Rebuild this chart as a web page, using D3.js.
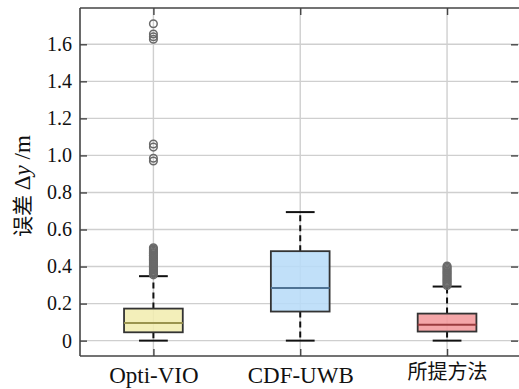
<!DOCTYPE html>
<html>
<head>
<meta charset="utf-8">
<script src="https://cdn.jsdelivr.net/npm/d3@7"></script>
<style>
  html, body { margin: 0; padding: 0; background: #fff; }
  svg { display: block; }
</style>
</head>
<body>
<svg id="chart" width="519" height="389"></svg>
<script>
// Methods compared
const categories = ["Opti-VIO", "CDF-UWB", "所提方法"];

// Box statistics per method: [lower whisker, Q1, median, Q3, upper whisker]
const lowerWhisker = [0.000, 0.000, 0.000];
const q1Values     = [0.045, 0.157, 0.049];
const medianValues = [0.095, 0.284, 0.086];
const q3Values     = [0.173, 0.483, 0.146];
const upperWhisker = [0.348, 0.694, 0.292];

// Outliers per method
const outliersOptiVIO = [
  0.355, 0.362, 0.368, 0.374, 0.381, 0.387, 0.393, 0.400, 0.406, 0.412,
  0.419, 0.425, 0.431, 0.438, 0.444, 0.450, 0.457, 0.463, 0.470, 0.476,
  0.482, 0.489, 0.495, 0.501,
  0.970, 0.985, 1.045, 1.062,
  1.627, 1.641, 1.656, 1.711
];
const outliersCDFUWB = [];
const outliersProposed = [
  0.298, 0.305, 0.312, 0.319, 0.326, 0.333, 0.340, 0.347, 0.354, 0.361,
  0.368, 0.375, 0.382, 0.389, 0.396, 0.403
];
const outlierSets = [outliersOptiVIO, outliersCDFUWB, outliersProposed];

// Y axis ticks and labels
const yTicks = [0, 0.2, 0.4, 0.6, 0.8, 1.0, 1.2, 1.4, 1.6];
const yTickLabels = ["0", "0.2", "0.4", "0.6", "0.8", "1.0", "1.2", "1.4", "1.6"];

// Colours
const boxFills = ["#f1edb0", "#b8dcf8", "#f39a9c"];
const medianColors = ["#9a944f", "#4f7394", "#9a3c3f"];

const SERIF = '"Liberation Serif"';
const CJK = '"Noto Sans CJK SC"';

const svg = d3.select("#chart");
const plotLeft = 80, plotRight = 519, plotTop = 8, plotBottom = 356;

const x = d3.scaleLinear().domain([0.5, 3.49]).range([plotLeft, plotRight]);
const y = d3.scaleLinear().domain([-0.083, 1.796]).range([plotBottom, plotTop]);

const boxHalf = 0.2;   // half box width in category units
const capHalf = 0.098; // half whisker-cap width

// Grid lines
const grid = svg.append("g").attr("stroke", "#cfcfcf").attr("stroke-width", 1.4);
grid.selectAll("line.h").data(yTicks).join("line").attr("class", "h")
  .attr("x1", plotLeft).attr("x2", plotRight)
  .attr("y1", d => y(d)).attr("y2", d => y(d));
grid.selectAll("line.v").data(categories).join("line").attr("class", "v")
  .attr("x1", (d, i) => x(i + 1)).attr("x2", (d, i) => x(i + 1))
  .attr("y1", plotTop).attr("y2", plotBottom);

// Left axis
const yAxis = d3.axisLeft(y).tickValues(yTicks)
  .tickFormat((d, i) => yTickLabels[i]).tickSizeInner(-7).tickSizeOuter(0).tickPadding(8);
const gy = svg.append("g").attr("transform", `translate(${plotLeft},0)`).call(yAxis)
  .attr("font-family", SERIF);
gy.select(".domain").attr("stroke", "#444").attr("stroke-width", 1.6)
  .attr("d", `M0,${plotTop}V${plotBottom}`);
gy.selectAll(".tick line").attr("stroke", "#444").attr("stroke-width", 1.4);
gy.selectAll(".tick text")
  .style("font-family", SERIF).style("font-size", "20px").attr("fill", "#111");

// Right ticks
const yAxisR = d3.axisRight(y).tickValues(yTicks).tickFormat("").tickSizeInner(-7).tickSizeOuter(0);
const gyr = svg.append("g").attr("transform", `translate(${plotRight - 1},0)`).call(yAxisR);
gyr.select(".domain").remove();
gyr.selectAll(".tick line").attr("stroke", "#444").attr("stroke-width", 1.4);

// Bottom axis
const xAxis = d3.axisBottom(x).tickValues([1, 2, 3])
  .tickFormat((d) => categories[d - 1]).tickSizeInner(-7).tickSizeOuter(0).tickPadding(11);
const gx = svg.append("g").attr("transform", `translate(0,${plotBottom})`).call(xAxis)
  .attr("font-family", SERIF);
gx.select(".domain").attr("stroke", "#444").attr("stroke-width", 1.6)
  .attr("d", `M${plotLeft},0H${plotRight}`);
gx.selectAll(".tick line").attr("stroke", "#444").attr("stroke-width", 1.4);
gx.selectAll(".tick text")
  .style("font-family", d => d === 3 ? CJK : SERIF)
  .style("font-size", d => d === 3 ? "20px" : "23px").attr("fill", "#111")
  .attr("dy", d => d === 3 ? "0.6em" : "0.71em");

// Top border with ticks
const xAxisT = d3.axisTop(x).tickValues([1, 2, 3]).tickFormat("").tickSizeInner(-7).tickSizeOuter(0);
const gxt = svg.append("g").attr("transform", `translate(0,${plotTop})`).call(xAxisT);
gxt.select(".domain").attr("stroke", "#444").attr("stroke-width", 1.6)
  .attr("d", `M${plotLeft},0H${plotRight}`);
gxt.selectAll(".tick line").attr("stroke", "#444").attr("stroke-width", 1.4);

// Boxes
const boxes = svg.append("g");
categories.forEach((c, i) => {
  const cx = i + 1;
  const g = boxes.append("g");
  // dashed whiskers
  g.append("line").attr("x1", x(cx)).attr("x2", x(cx))
    .attr("y1", y(q3Values[i])).attr("y2", y(upperWhisker[i]))
    .attr("stroke", "#111").attr("stroke-width", 2).attr("stroke-dasharray", "6,4");
  g.append("line").attr("x1", x(cx)).attr("x2", x(cx))
    .attr("y1", y(q1Values[i])).attr("y2", y(lowerWhisker[i]))
    .attr("stroke", "#111").attr("stroke-width", 2).attr("stroke-dasharray", "6,4");
  // caps
  [lowerWhisker[i], upperWhisker[i]].forEach(v => {
    g.append("line").attr("x1", x(cx - capHalf)).attr("x2", x(cx + capHalf))
      .attr("y1", y(v)).attr("y2", y(v))
      .attr("stroke", "#111").attr("stroke-width", 2);
  });
  // box
  g.append("rect")
    .attr("x", x(cx - boxHalf)).attr("width", x(cx + boxHalf) - x(cx - boxHalf))
    .attr("y", y(q3Values[i])).attr("height", y(q1Values[i]) - y(q3Values[i]))
    .attr("fill", boxFills[i]).attr("fill-opacity", 0.88)
    .attr("stroke", "#333").attr("stroke-width", 1.8);
  // median
  g.append("line").attr("x1", x(cx - boxHalf)).attr("x2", x(cx + boxHalf))
    .attr("y1", y(medianValues[i])).attr("y2", y(medianValues[i]))
    .attr("stroke", medianColors[i]).attr("stroke-width", 2);
  // outliers
  g.selectAll("circle").data(outlierSets[i]).join("circle")
    .attr("cx", x(cx)).attr("cy", d => y(d)).attr("r", 3.8)
    .attr("fill", "none").attr("stroke", "#6a6a6a").attr("stroke-width", 1.5);
});

// Y axis title
const title = svg.append("text")
  .attr("transform", `translate(30,186) rotate(-90)`)
  .attr("text-anchor", "middle")
  .style("font-family", SERIF)
  .style("font-size", "23px").attr("fill", "#111");
title.append("tspan").style("font-family", CJK).style("font-size", "21px").text("误差 ");
title.append("tspan").style("font-family", SERIF).text("Δ");
title.append("tspan").style("font-family", SERIF).style("font-style", "italic").text("y");
title.append("tspan").style("font-family", SERIF).text(" /m");
</script>
</body>
</html>
